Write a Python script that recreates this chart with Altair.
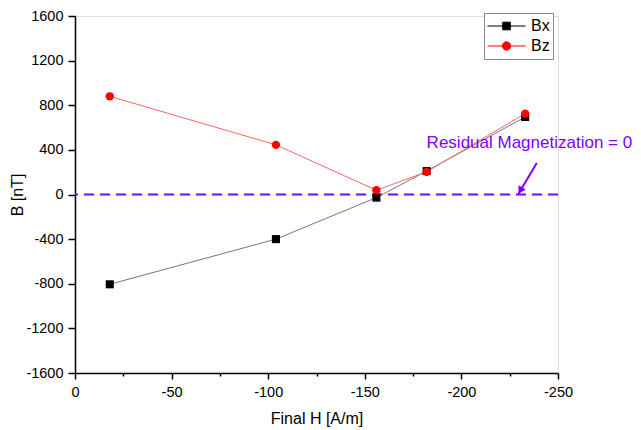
import altair as alt
import pandas as pd

# ---- data ----
H = [-18, -104, -156, -182, -233]
Bx = [-805, -400, -28, 210, 695]
Bz = [880, 445, 38, 203, 725]
series_names = ["Bx", "Bz"]

x_ticks = list(range(0, -251, -25))
y_ticks = list(range(-1600, 1601, 200))

annot_text = ["Residual Magnetization = 0"]
annot_x = [-182]
annot_y = [464]
arrow_x = [-239]
arrow_y = [282]
arrow_x2 = [-229.5]
arrow_y2 = [5]
head_x = [-230.8]
head_y = [45]

df_bx = pd.DataFrame({"H": H, "B": Bx, "series": "Bx"})
df_bz = pd.DataFrame({"H": H, "B": Bz, "series": "Bz"})
df_all = pd.concat([df_bx, df_bz], ignore_index=True)

FONT = "Liberation Sans"
PURPLE = "#8000ff"

x_scale = alt.Scale(domain=[-250, 0], reverse=True, nice=False, zero=False)
y_scale = alt.Scale(domain=[-1600, 1600], nice=False, zero=False)

x_axis = alt.Axis(
    values=x_ticks,
    labelExpr="datum.value % 50 === 0 ? '' + datum.value : ''",
    tickSize={"condition": {"test": "datum.value % 50 === 0", "value": 6}, "value": 3},
    title="Final H [A/m]",
    grid=False, labelOverlap=False, labelFlush=False,
    domainColor="black", tickColor="black", domainWidth=1.5, tickWidth=1.5,
    labelFont=FONT, labelFontSize=14.5, labelColor="black", labelPadding=6,
    titleFont=FONT, titleFontSize=16, titleFontWeight="normal", titleColor="black",
    titlePadding=12,
)
y_axis = alt.Axis(
    values=y_ticks,
    labelExpr="datum.value % 400 === 0 ? '' + datum.value : ''",
    tickSize={"condition": {"test": "datum.value % 400 === 0", "value": 7}, "value": 4},
    title="B [nT]",
    grid=False, labelOverlap=False, labelFlush=False,
    domainColor="black", tickColor="black", domainWidth=1.5, tickWidth=1.5,
    labelFont=FONT, labelFontSize=14.5, labelColor="black", labelPadding=5,
    titleFont=FONT, titleFontSize=16, titleFontWeight="normal", titleColor="black",
    titlePadding=0,
)

zero_line = alt.Chart(pd.DataFrame({"y": [0]})).mark_rule(
    color=PURPLE, strokeWidth=2, strokeDash=[10, 6]
).encode(y=alt.Y("y:Q", scale=y_scale, axis=y_axis))

line_bx = alt.Chart(df_bx).mark_line(strokeWidth=1, color="#777777").encode(
    x=alt.X("H:Q", scale=x_scale, axis=x_axis),
    y=alt.Y("B:Q", scale=y_scale, axis=y_axis),
)
line_bz = alt.Chart(df_bz).mark_line(strokeWidth=1, color="#ff6464").encode(
    x=alt.X("H:Q", scale=x_scale), y=alt.Y("B:Q", scale=y_scale),
)
pts_bx = alt.Chart(df_bx).mark_point(shape="square", filled=True, size=65, opacity=1, color="black").encode(
    x=alt.X("H:Q", scale=x_scale), y=alt.Y("B:Q", scale=y_scale),
)
pts_bz = alt.Chart(df_bz).mark_point(shape="circle", filled=True, size=70, opacity=1, color="#ff0000").encode(
    x=alt.X("H:Q", scale=x_scale), y=alt.Y("B:Q", scale=y_scale),
)

sq_path = "M-1,0H1M-0.2,-0.2H0.2V0.2H-0.2Z"
ci_path = "M-1,0H1M0.22,0A0.22,0.22 0 1,1 -0.22,0A0.22,0.22 0 1,1 0.22,0Z"

leg_col = alt.Scale(domain=series_names, range=["black", "#ff0000"])
legend_def = alt.Legend(
    title=None, orient="none", legendX=409, legendY=-3,
    symbolSize=1444, symbolOpacity=1, symbolStrokeWidth=1,
    labelFont=FONT, labelFontSize=16, labelColor="black", labelOffset=5,
    padding=3, rowPadding=0, clipHeight=20,
    strokeColor="#888888", fillColor="white",
)
legend_layer = alt.Chart(df_all).mark_point(filled=True, opacity=0).encode(
    x=alt.X("H:Q", scale=x_scale),
    y=alt.Y("B:Q", scale=y_scale),
    fill=alt.Fill("series:N", scale=leg_col, legend=legend_def),
    stroke=alt.Stroke("series:N", scale=leg_col, legend=legend_def),
    shape=alt.Shape("series:N", scale=alt.Scale(domain=series_names, range=[sq_path, ci_path]), legend=legend_def),
)

annot_df = pd.DataFrame({"t": annot_text, "x": annot_x, "y": annot_y})
annot = alt.Chart(annot_df).mark_text(
    align="left", baseline="middle", font=FONT, fontSize=17, color=PURPLE
).encode(x=alt.X("x:Q", scale=x_scale), y=alt.Y("y:Q", scale=y_scale), text="t:N")

arrow_df = pd.DataFrame({"x": arrow_x, "y": arrow_y, "x2": arrow_x2, "y2": arrow_y2})
arrow = alt.Chart(arrow_df).mark_rule(color=PURPLE, strokeWidth=2).encode(
    x=alt.X("x:Q", scale=x_scale), y=alt.Y("y:Q", scale=y_scale), x2="x2:Q", y2="y2:Q"
)
head_df = pd.DataFrame({"x": head_x, "y": head_y})
head = alt.Chart(head_df).mark_point(
    shape="triangle", filled=True, color=PURPLE, size=70, angle=210.7, opacity=1
).encode(x=alt.X("x:Q", scale=x_scale), y=alt.Y("y:Q", scale=y_scale))

chart = alt.layer(
    zero_line, line_bx, line_bz, pts_bx, pts_bz, legend_layer, annot, arrow, head
).properties(
    width=483, height=357,
    autosize=alt.AutoSizeParams(type="none"),
    padding={"left": 75, "top": 16, "right": 83, "bottom": 57},
).configure_view(stroke=None).configure(background="white")

chart.save("out.html", embed_options={"renderer": "svg", "actions": False})
